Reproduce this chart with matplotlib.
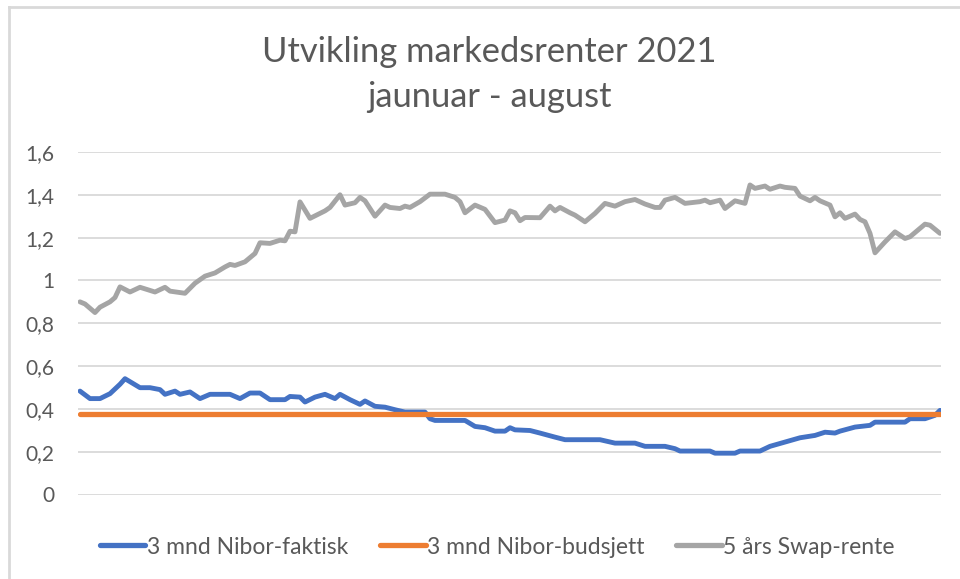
import matplotlib
matplotlib.use("Agg")
import matplotlib.pyplot as plt
from matplotlib.lines import Line2D
from matplotlib.ticker import FuncFormatter

# handelsdager (indeks) og renter
swap_dag = [0, 1, 3, 4, 6, 7, 8, 10, 12, 15, 17, 18, 21, 23, 25, 27, 29, 30, 31, 33,
            35, 36, 38, 40, 41, 42, 43, 44, 46, 49, 50, 52, 53, 55, 56, 57, 59, 61, 62, 64,
            65, 66, 68, 70, 73, 75, 76, 77, 79, 81, 83, 85, 86, 87, 88, 89, 92, 94, 95, 96,
            98, 99, 101, 103, 105, 107, 109, 111, 113, 115, 116, 117, 119, 121, 124, 125, 126, 128, 129, 131,
            133, 134, 135, 137, 138, 140, 141, 143, 144, 146, 147, 148, 150, 151, 152, 153, 155, 156, 157, 158,
            159, 161, 163, 165, 166, 169, 170, 172]
swap_rente = [0.90, 0.89, 0.85, 0.875, 0.90, 0.92, 0.97, 0.946, 0.968, 0.946, 0.968, 0.95, 0.94, 0.987, 1.02, 1.035, 1.063, 1.075, 1.07, 1.087,
              1.126, 1.176, 1.173, 1.188, 1.185, 1.23, 1.227, 1.367, 1.29, 1.325, 1.341, 1.40, 1.352, 1.363, 1.388, 1.372, 1.30, 1.352, 1.341, 1.336,
              1.347, 1.341, 1.368, 1.403, 1.403, 1.388, 1.368, 1.316, 1.352, 1.332, 1.27, 1.282, 1.325, 1.316, 1.279, 1.294, 1.293, 1.347, 1.325, 1.341,
              1.316, 1.305, 1.274, 1.313, 1.36, 1.347, 1.368, 1.378, 1.357, 1.341, 1.341, 1.375, 1.388, 1.36, 1.368, 1.375, 1.363, 1.375, 1.336, 1.372,
              1.36, 1.446, 1.43, 1.441, 1.426, 1.441, 1.435, 1.43, 1.394, 1.372, 1.388, 1.372, 1.352, 1.297, 1.316, 1.29, 1.31, 1.285, 1.274, 1.22,
              1.129, 1.18, 1.227, 1.196, 1.204, 1.263, 1.258, 1.22]

nibor_dag = [0, 2, 4, 6, 8, 9, 12, 14, 16, 17, 19, 20, 22, 24, 26, 30, 32, 34, 36, 38,
             41, 42, 44, 45, 47, 49, 51, 52, 54, 56, 57, 59, 61, 63, 65, 69, 70, 71, 77, 79,
             81, 83, 85, 86, 87, 90, 92, 95, 97, 104, 107, 111, 113, 117, 119, 120, 126, 127, 131, 132,
             136, 138, 141, 144, 147, 149, 151, 152, 155, 158, 159, 165, 166, 169, 171, 172]
nibor_faktisk = [0.483, 0.448, 0.448, 0.471, 0.515, 0.541, 0.499, 0.499, 0.49, 0.468, 0.483, 0.468, 0.479, 0.448, 0.468, 0.468, 0.448, 0.474, 0.474, 0.443,
                 0.443, 0.458, 0.455, 0.432, 0.455, 0.468, 0.448, 0.468, 0.443, 0.421, 0.437, 0.412, 0.408, 0.396, 0.385, 0.385, 0.354, 0.346, 0.346, 0.318,
                 0.312, 0.296, 0.296, 0.312, 0.302, 0.299, 0.287, 0.268, 0.256, 0.256, 0.24, 0.24, 0.225, 0.225, 0.214, 0.203, 0.203, 0.193, 0.193, 0.203,
                 0.203, 0.225, 0.245, 0.265, 0.276, 0.291, 0.287, 0.296, 0.315, 0.323, 0.338, 0.338, 0.354, 0.354, 0.37, 0.393]

budsjett_dag = [0, 172]
nibor_budsjett = [0.375, 0.375]

serier = ["3 mnd Nibor-faktisk", "3 mnd Nibor-budsjett", "5 års Swap-rente"]
farger = ["#4472C4", "#ED7D31", "#A5A5A5"]
y_ticks = [0, 0.2, 0.4, 0.6, 0.8, 1.0, 1.2, 1.4, 1.6]

plt.rcParams['font.family'] = ['Lato', 'DejaVu Sans']
tekst = "#595959"

fig = plt.figure(figsize=(9.6, 5.79), dpi=100)
ax = fig.add_axes([78 / 960, 1 - 494.5 / 579, 863 / 960, 342.5 / 579])

ax.plot(nibor_dag, nibor_faktisk, color=farger[0], lw=3.5, solid_capstyle='round', zorder=3)
ax.plot(budsjett_dag, nibor_budsjett, color=farger[1], lw=3.8, solid_capstyle='round', zorder=4)
ax.plot(swap_dag, swap_rente, color=farger[2], lw=3.5, solid_capstyle='round', zorder=3)

ax.set_xlim(-0.4, 172.2)
ax.set_ylim(0, 1.6)
ax.set_yticks(y_ticks)
ax.yaxis.set_major_formatter(FuncFormatter(lambda v, p: ("%g" % v).replace(".", ",")))
ax.tick_params(axis='y', length=0, pad=17, labelsize=15, labelcolor=tekst)
ax.set_xticks([])
ax.grid(axis='y', color="#D9D9D9", lw=1.3, zorder=0)
for s in ax.spines.values():
    s.set_visible(False)

fig.text(0.51, 1 - 52 / 579, "Utvikling markedsrenter 2021", ha='center', va='center',
         fontsize=24.8, color=tekst)
fig.text(0.51, 1 - 97 / 579, "jaunuar - august", ha='center', va='center',
         fontsize=24.8, color=tekst)

handles = [Line2D([], [], color=c, lw=3.8, solid_capstyle='round') for c in farger]
fig.legend(handles, serier, loc='center', bbox_to_anchor=(0.518, 1 - 547 / 579), ncol=3,
           frameon=False, fontsize=16.5, labelcolor=tekst, handlelength=2.0,
           handletextpad=0.05, columnspacing=1.4)

# ramme fra skjermbildet
fig.add_artist(Line2D([9 / 960, 9 / 960], [0, 1 - 7 / 579], color="#D9D9D9", lw=2, transform=fig.transFigure))
fig.add_artist(Line2D([9 / 960, 1], [1 - 7 / 579, 1 - 7 / 579], color="#D9D9D9", lw=2, transform=fig.transFigure))

fig.savefig("out.png", dpi=100)
